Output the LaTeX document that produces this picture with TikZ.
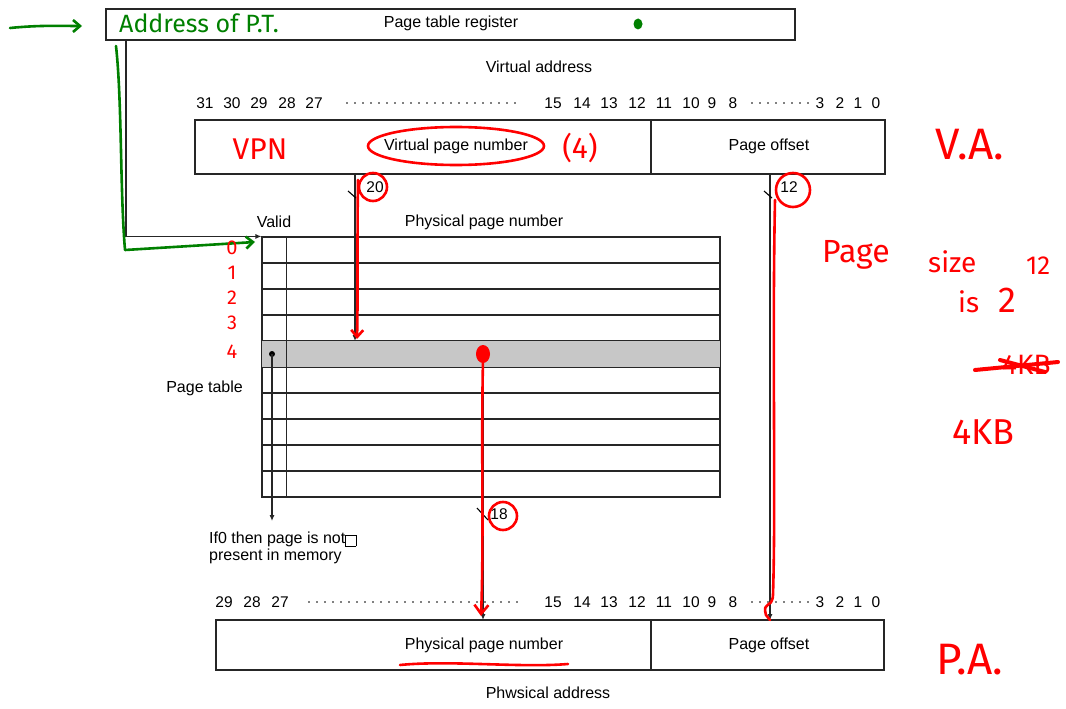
\documentclass[tikz,border=0pt]{standalone}
\usepackage{fontspec}
\setmainfont{Liberation Sans}
\newfontfamily\handfont{Fira Sans}
\usetikzlibrary{arrows.meta,shapes.geometric,calc}
\begin{document}
\begin{tikzpicture}[x=1pt,y=-1pt,
  lbl/.style={font=\fontsize{16}{18}\selectfont, inner sep=0pt},
  num/.style={font=\fontsize{15.5}{17}\selectfont, inner sep=0pt, anchor=base},
  field/.style={draw=black!85, line width=1.1pt, inner sep=0pt},
  ptrow/.style={draw=black!85, line width=1.1pt, inner sep=0pt, minimum width=458pt, minimum height=26pt},
  blk/.style={draw=black!85, line width=1.1pt},
  blkarr/.style={draw=black!85, line width=1.1pt, -{Latex[length=6pt,width=5pt]}},
  redpen/.style={draw=red, line width=2.6pt, line cap=round, line join=round},
  greenpen/.style={draw=green!50!black, line width=2.6pt, line cap=round, line join=round},
  redtxt/.style={text=red, font=\handfont, inner sep=0pt},
  greentxt/.style={text=green!50!black, font=\handfont, inner sep=0pt},
  bwslash/.style={draw=black, line width=1.1pt}
]
\useasboundingbox (0,0) rectangle (1066,709);
\fill[white] (0,0) rectangle (1066,709);

% ---------- page table register ----------
\node[field, minimum width=689pt, minimum height=31pt] (ptr) at (450.5,24.5) {};
\node[lbl] (ptrlbl) at (451,23) {Page table register};
\fill[green!50!black] (638,24) ellipse (4.5pt and 5.5pt);
\node[greentxt, font=\handfont\fontsize{25}{27}\selectfont, anchor=west] (addr) at (119,23) {Address of P.T.};
\coordinate (garrS) at (10,28);
\coordinate (garrE) at (82,26);
\draw[greenpen, -{Straight Barb[length=7pt,width=12pt]}] (garrS) .. controls (40,25) and (60,26) .. (garrE);

% ---------- virtual address ----------
\node[lbl] (valbl) at (539,67) {Virtual address};
\foreach \n/\x in {31/205,30/232,29/259,28/287,27/314,15/553,14/582,13/609,12/637,11/664,10/691,9/712,8/733,3/820,2/840,1/858,0/876}
  \node[num] (va\n) at (\x,108) {\n};
\foreach \x in {347,355,...,519} \fill (\x,103) circle (0.9pt);
\foreach \x in {752,760,...,808} \fill (\x,103) circle (0.9pt);

\node[field, minimum width=456pt, minimum height=54pt] (vpn) at (423,147) {};
\node[field, minimum width=234pt, minimum height=54pt] (voff) at (768,147) {};
\node[lbl] (vpnlbl) at (456,146) {Virtual page number};
\node[lbl] (vofflbl) at (769,146) {Page offset};

% ---------- page table ----------
\node[lbl] (validlbl) at (274,222) {Valid};
\node[lbl] (ppnhead) at (484,222) {Physical page number};
\foreach \i in {0,...,9}
  \node[ptrow] (row\i) at (491,{250+26*\i}) {};
\fill[black!22] (row4.north west) rectangle (row4.south east);
\draw[blk] (row4.north west) rectangle (row4.south east);
\draw[blk] ($(row0.north west)+(25,0)$) -- ($(row9.south west)+(25,0)$);
\node[lbl, anchor=east] (ptlbl) at (243,388) {Page table};

% PTR -> table
\coordinate (ptrout) at (126,40);
\draw[blkarr] (ptrout) |- (row0.north west);

% valid bit
\coordinate (vdot) at (272,354);
\coordinate (vend) at (272,521);
\fill (vdot) circle (3pt);
\draw[blkarr] (vdot) -- (vend);
\node[lbl, anchor=north west, align=left] (notpresent) at (209,532) {If0 then page is not\raisebox{0.5pt}{\fbox{\rule{0pt}{5pt}\hspace{4pt}}}\\[-1pt]present in memory};

% ---------- physical address ----------
\foreach \n/\x in {29/224,28/252,27/280,15/553,14/582,13/609,12/637,11/664,10/691,9/712,8/733,3/820,2/840,1/858,0/876}
  \node[num] (pa\n) at (\x,607) {\n};
\foreach \x in {309,317,...,519} \fill (\x,602) circle (0.9pt);
\foreach \x in {752,760,...,808} \fill (\x,602) circle (0.9pt);

\node[field, minimum width=435pt, minimum height=50pt] (ppn) at (433.5,645) {};
\node[field, minimum width=233pt, minimum height=50pt] (poff) at (767.5,645) {};
\node[lbl] (ppnlbl) at (484,645) {Physical page number};
\node[lbl] (pofflbl) at (769,645) {Page offset};
\node[lbl] (palbl) at (548,693) {Phwsical address};

% ---------- black connectors ----------
\coordinate (vpnout) at (355,174);
\coordinate (vpnin) at (355,341);
\draw[blkarr] (vpnout) -- (vpnin);
\draw[bwslash] (348,191) -- (356,198);
\node[num] (w20) at (375,192) {20};

\coordinate (offout) at (770,174);
\coordinate (offin) at (770,620);
\draw[blkarr] (offout) -- (offin);
\draw[bwslash] (764,191) -- (772,198);
\node[num] (w12) at (789,192) {12};

\coordinate (ppnout) at (483,367);
\coordinate (ppnin) at (483,620);
\draw[blkarr] (ppnout) -- (ppnin);
\draw[bwslash] (477,508) -- (488,520);
\node[num] (w18) at (499,519) {18};

% ---------- green annotation path ----------
\draw[greenpen, -{Straight Barb[length=7pt,width=12pt]}] (116,46) .. controls (122,100) and (120,190) .. (125,250) -- (255,242);

% ---------- red annotations ----------
\node[redtxt, font=\handfont\fontsize{30}{32}\selectfont] (vpnhand) at (260,149) {VPN};
\node[draw=red, line width=2.6pt, ellipse, minimum width=176pt, minimum height=38pt] (vpnring) at (456,146) {};
\node[redtxt, font=\handfont\fontsize{30}{32}\selectfont] (four) at (580,148) {(4)};
\node[redtxt, font=\handfont\fontsize{44}{46}\selectfont] (vahand) at (970,145) {V.A.};
\node[redtxt, font=\handfont\fontsize{44}{46}\selectfont] (pahand) at (970,660) {P.A.};

\node[draw=red, line width=2.6pt, circle, minimum size=28pt] (c20) at (373,187) {};
\node[draw=red, line width=2.6pt, circle, minimum size=34pt] (c12) at (793,190) {};
\node[draw=red, line width=2.6pt, circle, minimum size=28pt] (c18) at (503,516) {};

\draw[redpen, -{Straight Barb[length=7pt,width=12pt]}] (358,180) .. controls (357,250) and (358,300) .. (357,339);
\fill[red] (483,354) ellipse (7pt and 9pt);
\draw[redpen, -{Straight Barb[length=9pt,width=14pt]}] (483,360) .. controls (481,450) and (484,540) .. (481,616);
\draw[redpen] (775,200) .. controls (772,350) and (776,500) .. (773,595) .. controls (772,610) and (762,600) .. (766,615) -- (770,620);
\draw[redpen] (400,665) .. controls (450,660) and (520,668) .. (568,664);

\foreach \t/\y in {0/248,1/273,2/298,3/323,4/352}
  \node[redtxt, font=\handfont\fontsize{20}{22}\selectfont] (idx\t) at (232,\y) {\t};

\node[redtxt, font=\handfont\fontsize{32}{34}\selectfont, anchor=west] (pagew) at (822,255) {Page};
\node[redtxt, font=\handfont\fontsize{28}{30}\selectfont, anchor=west] (sizew) at (928,262) {size};
\node[redtxt, font=\handfont\fontsize{26}{28}\selectfont, anchor=west] (twelve) at (1026,266) {12};
\node[redtxt, font=\handfont\fontsize{28}{30}\selectfont, anchor=west] (isw) at (958,302) {is};
\node[redtxt, font=\handfont\fontsize{36}{38}\selectfont, anchor=west] (two) at (998,300) {2};
\node[redtxt, font=\handfont\fontsize{28}{30}\selectfont, anchor=west] (struck) at (1002,365) {4KB};
\draw[redpen, line width=4pt] (975,370) -- (1058,362);
\draw[redpen, line width=4pt] (1000,360) -- (1045,372);
\node[redtxt, font=\handfont\fontsize{36}{38}\selectfont, anchor=west] (fourkb) at (952,432) {4KB};
\end{tikzpicture}
\end{document}
